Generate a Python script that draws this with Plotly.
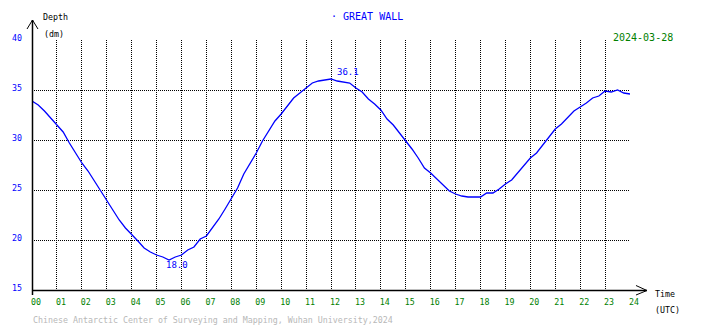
import plotly.graph_objects as go

# Tide gauge record, depth in decimetres, sampled every 15 minutes (UTC hours)
hours = [i * 0.25 for i in range(97)]
depth = [
    33.9, 33.5, 32.9, 32.2, 31.5, 30.8, 29.7, 28.7,
    27.7, 26.9, 25.9, 24.9, 23.9, 22.9, 22.0, 21.2,
    20.6, 19.9, 19.2, 18.8, 18.5, 18.3, 18.0, 18.3,
    18.5, 19.0, 19.3, 20.1, 20.4, 21.2, 22.1, 23.1,
    24.1, 25.2, 26.6, 27.6, 28.7, 29.9, 30.9, 31.9,
    32.6, 33.4, 34.2, 34.7, 35.2, 35.7, 35.9, 36.0,
    36.1, 35.9, 35.8, 35.7, 35.2, 34.8, 34.1, 33.6,
    33.0, 32.1, 31.5, 30.7, 30.0, 29.1, 28.2, 27.2,
    26.7, 26.1, 25.5, 24.9, 24.6, 24.4, 24.3, 24.3,
    24.3, 24.7, 24.7, 25.1, 25.6, 26.0, 26.7, 27.4,
    28.2, 28.7, 29.5, 30.3, 31.1, 31.6, 32.3, 32.9,
    33.3, 33.7, 34.2, 34.4, 34.9, 34.8, 35.0, 34.7,
    34.6,
]
x_ticks = list(range(25))
x_tick_text = [f"{h:02d}" for h in x_ticks]
y_ticks = [15, 20, 25, 30, 35, 40]
y_tick_text = [str(v) for v in y_ticks]

station = "GREAT WALL"
date_label = "2024-03-28"
footer = "Chinese Antarctic Center of Surveying and Mapping, Wuhan University,2024"

W, H = 710, 328
L, R, T, B = 30, 80, 40, 38
PW, PH = W - L - R, H - T - B
MONO = "DejaVu Sans Mono"
BLUE, GREEN = "#0000ff", "#008000"


def px(x):
    return (x - L) / PW


def py(y):
    return (H - B - y) / PH


fig = go.Figure()
fig.add_trace(go.Scatter(
    x=hours, y=depth, mode="lines",
    line=dict(color=BLUE, width=1.3),
    hoverinfo="skip", showlegend=False,
))

i_max = max(range(len(depth)), key=lambda i: depth[i])
i_min = min(range(len(depth)), key=lambda i: depth[i])

annotations = [
    dict(x=hours[i_max], y=depth[i_max], xref="x", yref="y",
         text=f"{depth[i_max]:.1f}", showarrow=False,
         xanchor="left", yanchor="bottom", xshift=4, yshift=0,
         font=dict(family=MONO, size=9, color=BLUE)),
    dict(x=hours[i_min], y=depth[i_min], xref="x", yref="y",
         text=f"{depth[i_min]:.1f}", showarrow=False,
         xanchor="left", yanchor="top", xshift=-5, yshift=2,
         font=dict(family=MONO, size=9, color=BLUE)),
    dict(x=px(328), y=py(17), xref="paper", yref="paper",
         text="· " + station, showarrow=False, xanchor="left", yanchor="middle",
         font=dict(family=MONO, size=10, color=BLUE)),
    dict(x=px(611), y=py(37), xref="paper", yref="paper",
         text=date_label, showarrow=False, xanchor="left", yanchor="middle",
         font=dict(family=MONO, size=10, color=GREEN)),
    dict(x=px(39), y=py(17), xref="paper", yref="paper",
         text="Depth", showarrow=False, xanchor="left", yanchor="middle",
         font=dict(family=MONO, size=8.3, color="black")),
    dict(x=px(40), y=py(34), xref="paper", yref="paper",
         text="(dm)", showarrow=False, xanchor="left", yanchor="middle",
         font=dict(family=MONO, size=8.3, color="black")),
    dict(x=px(653), y=py(294), xref="paper", yref="paper",
         text="Time", showarrow=False, xanchor="left", yanchor="middle",
         font=dict(family=MONO, size=8.3, color="black")),
    dict(x=px(653), y=py(310), xref="paper", yref="paper",
         text="(UTC)", showarrow=False, xanchor="left", yanchor="middle",
         font=dict(family=MONO, size=8.3, color="black")),
    dict(x=px(29), y=py(320), xref="paper", yref="paper",
         text=footer, showarrow=False, xanchor="left", yanchor="middle",
         font=dict(family=MONO, size=8.3, color="#b8b8b8")),
]

axis_line = dict(color="black", width=1.5)
shapes = [
    # vertical axis with arrow head
    dict(type="line", xref="paper", yref="paper",
         x0=px(30.5), x1=px(30.5), y0=py(295), y1=py(20), line=axis_line),
    dict(type="line", xref="paper", yref="paper",
         x0=px(25), x1=px(30.5), y0=py(29), y1=py(20), line=dict(color="black", width=1)),
    dict(type="line", xref="paper", yref="paper",
         x0=px(36), x1=px(30.5), y0=py(29), y1=py(20), line=dict(color="black", width=1)),
    # horizontal axis with arrow head
    dict(type="line", xref="paper", yref="paper",
         x0=px(30), x1=px(647), y0=py(290.5), y1=py(290.5), line=axis_line),
    dict(type="line", xref="paper", yref="paper",
         x0=px(636), x1=px(647), y0=py(285.5), y1=py(290.5), line=dict(color="black", width=1)),
    dict(type="line", xref="paper", yref="paper",
         x0=px(636), x1=px(647), y0=py(295), y1=py(290.5), line=dict(color="black", width=1)),
]

fig.update_layout(
    width=W, height=H,
    margin=dict(l=L, r=R, t=T, b=B, pad=0),
    paper_bgcolor="white", plot_bgcolor="white",
    annotations=annotations, shapes=shapes,
    showlegend=False,
)
fig.update_xaxes(
    range=[0, 24], tickvals=x_ticks, ticktext=x_tick_text,
    showgrid=True, gridcolor="black", gridwidth=1, griddash="1px,1px",
    zeroline=False, showline=False, ticks="",
    tickfont=dict(family=MONO, size=8.3, color=GREEN),
    ticklabelshift=4, ticklabelstandoff=6,
    fixedrange=True,
)
fig.update_yaxes(
    range=[15, 40], tickvals=y_ticks, ticktext=y_tick_text,
    showgrid=True, gridcolor="black", gridwidth=1, griddash="1px,1px",
    zeroline=False, showline=False, ticks="",
    tickfont=dict(family=MONO, size=8.3, color=BLUE),
    ticklabelshift=-2, ticklabelstandoff=9,
    fixedrange=True,
)

fig.write_html("out.html", config=dict(displayModeBar=False))
